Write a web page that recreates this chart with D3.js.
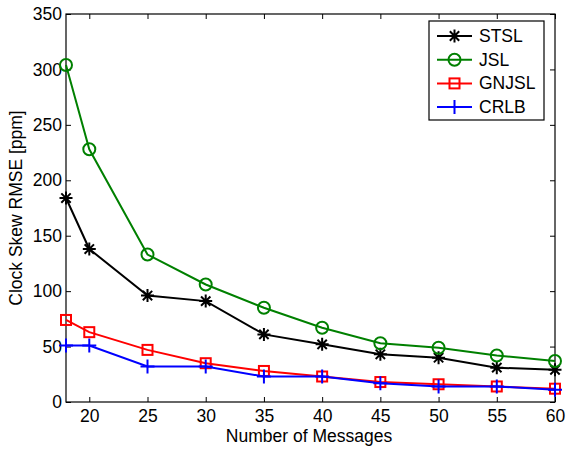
<!DOCTYPE html>
<html><head><meta charset="utf-8">
<script src="https://cdn.jsdelivr.net/npm/d3@7"></script>
<style>body{margin:0;background:#fff}svg{display:block}text{font-family:"Liberation Sans",Arial,sans-serif}</style>
</head><body>
<svg id="c" width="566" height="449"></svg>
<script>
const messages = [18, 20, 25, 30, 35, 40, 45, 50, 55, 60];
const stsl  = [184, 138, 96, 91, 61, 52, 43, 40, 31, 29];
const jsl   = [304, 228, 133, 106, 85, 67, 53, 49, 42, 37];
const gnjsl = [74, 63, 47, 35, 28, 23, 18, 16, 14, 12];
const crlb  = [51, 51, 32, 32, 23, 23, 17, 14, 14, 11];
const xTicks = [20, 25, 30, 35, 40, 45, 50, 55, 60];
const yTicks = [0, 50, 100, 150, 200, 250, 300, 350];
const seriesNames = ["STSL", "JSL", "GNJSL", "CRLB"];

const series = [
  {name: seriesNames[0], values: stsl,  color: "#000000", marker: "star"},
  {name: seriesNames[1], values: jsl,   color: "#008000", marker: "circle"},
  {name: seriesNames[2], values: gnjsl, color: "#ff0000", marker: "square"},
  {name: seriesNames[3], values: crlb,  color: "#0000ff", marker: "plus"}
];

const FS = 17.5;
const L = 66, R = 555, T = 14, B = 402;
const svg = d3.select("#c");
const x = d3.scaleLinear().domain([18, 60]).range([L, R]);
const y = d3.scaleLinear().domain([0, 350]).range([B, T]);

// axes with inward ticks
const tl = 5;
svg.append("g").attr("transform", `translate(0,${B})`)
  .call(d3.axisBottom(x).tickValues(xTicks).tickSizeInner(-tl).tickSizeOuter(0).tickPadding(8))
  .call(g => g.select(".domain").remove());
svg.append("g").attr("transform", `translate(0,${T})`)
  .call(d3.axisTop(x).tickValues(xTicks).tickSizeInner(-tl).tickSizeOuter(0).tickFormat(""))
  .call(g => g.select(".domain").remove());
svg.append("g").attr("transform", `translate(${L},0)`)
  .call(d3.axisLeft(y).tickValues(yTicks).tickSizeInner(-tl).tickSizeOuter(0).tickPadding(4))
  .call(g => g.select(".domain").remove());
svg.append("g").attr("transform", `translate(${R},0)`)
  .call(d3.axisRight(y).tickValues(yTicks).tickSizeInner(-tl).tickSizeOuter(0).tickFormat(""))
  .call(g => g.select(".domain").remove());
svg.selectAll(".tick line").attr("stroke", "#000").attr("stroke-width", 1);
svg.selectAll(".tick text").attr("font-size", FS).attr("fill", "#000")
  .attr("font-family", '"Liberation Sans",Arial,sans-serif');

svg.append("rect").attr("x", L).attr("y", T).attr("width", R - L).attr("height", B - T)
  .attr("fill", "none").attr("stroke", "#000").attr("stroke-width", 1.2);

function drawMarker(g, kind, cx, cy, color) {
  if (kind === "circle") {
    g.append("circle").attr("cx", cx).attr("cy", cy).attr("r", 6)
      .attr("fill", "none").attr("stroke", color).attr("stroke-width", 2);
  } else if (kind === "square") {
    g.append("rect").attr("x", cx - 5).attr("y", cy - 5).attr("width", 10).attr("height", 10)
      .attr("fill", "none").attr("stroke", color).attr("stroke-width", 2);
  } else if (kind === "plus") {
    g.append("path").attr("d", `M${cx-7},${cy}H${cx+7}M${cx},${cy-7}V${cy+7}`)
      .attr("stroke", color).attr("stroke-width", 2);
  } else if (kind === "star") {
    const r = 6.5, d = r * 0.72;
    g.append("path").attr("d",
      `M${cx-r},${cy}H${cx+r}M${cx},${cy-r}V${cy+r}M${cx-d},${cy-d}L${cx+d},${cy+d}M${cx-d},${cy+d}L${cx+d},${cy-d}`)
      .attr("stroke", color).attr("stroke-width", 2);
  }
}

const line = d3.line().x(d => x(d[0])).y(d => y(d[1]));
const plot = svg.append("g");
series.forEach(s => {
  const pts = messages.map((m, i) => [m, s.values[i]]);
  plot.append("path").datum(pts).attr("d", line).attr("fill", "none")
    .attr("stroke", s.color).attr("stroke-width", 2);
  pts.forEach(p => drawMarker(plot, s.marker, x(p[0]), y(p[1]), s.color));
});

// legend
const lg = svg.append("g");
lg.append("rect").attr("x", 429).attr("y", 21).attr("width", 115).attr("height", 99)
  .attr("fill", "#fff").attr("stroke", "#000").attr("stroke-width", 1.2);
series.forEach((s, i) => {
  const yy = 36 + i * 23.7;
  lg.append("line").attr("x1", 437).attr("x2", 472).attr("y1", yy).attr("y2", yy)
    .attr("stroke", s.color).attr("stroke-width", 2);
  drawMarker(lg, s.marker, 454.5, yy, s.color);
  lg.append("text").attr("x", 479).attr("y", yy + 6).attr("font-size", FS).attr("fill", "#000").text(s.name);
});

svg.append("text").attr("x", 309).attr("y", 442).attr("text-anchor", "middle")
  .attr("font-size", FS).attr("fill", "#000").text("Number of Messages");
svg.append("text").attr("transform", `translate(22,${(T + B) / 2}) rotate(-90)`)
  .attr("text-anchor", "middle").attr("font-size", FS).attr("fill", "#000").text("Clock Skew RMSE [ppm]");
</script>
</body></html>
